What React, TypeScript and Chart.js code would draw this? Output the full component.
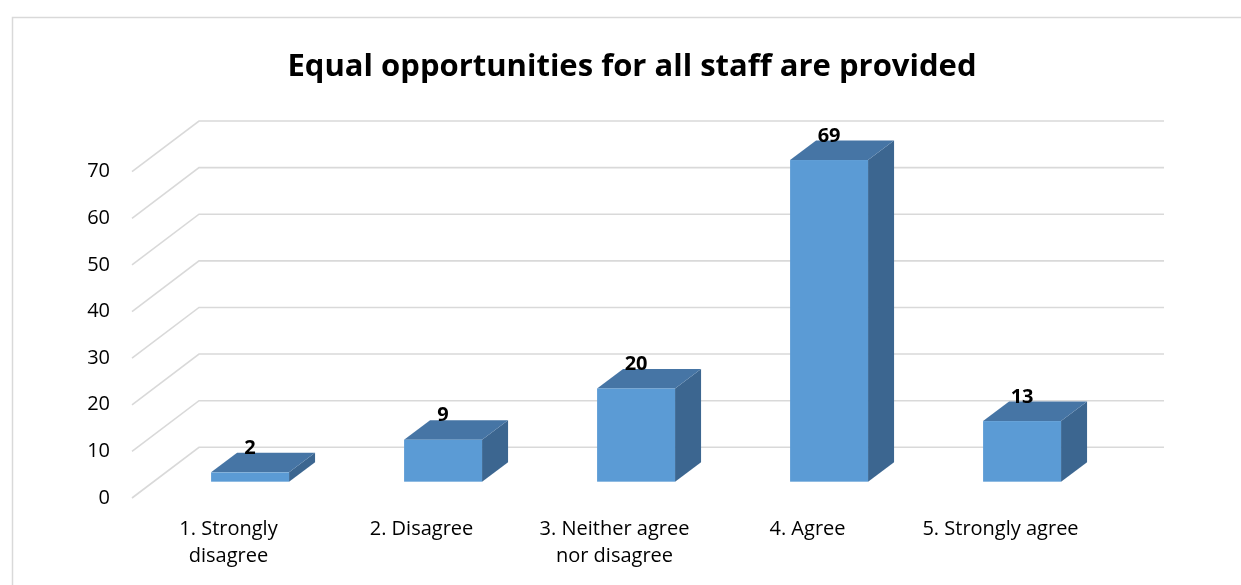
import React, { useEffect, useRef } from "react";
import { Chart, registerables } from "chart.js";

Chart.register(...registerables);

const chartTitle = "Equal opportunities for all staff are provided";
const categories: (string | string[])[] = [
  ["1. Strongly", "disagree"],
  "2. Disagree",
  ["3. Neither agree", "nor disagree"],
  "4. Agree",
  "5. Strongly agree",
];
const values = [2, 9, 20, 69, 13];
const yMin = 0;
const yMax = 70;
const yStep = 10;

const FONT = "'Open Sans', 'Noto Sans', sans-serif";
const DEPTH_X = 67;
const DEPTH_Y = 50.7;

const threeD = {
  id: "threeD",
  beforeDraw(chart: any) {
    const { ctx, width, height } = chart;
    ctx.save();
    ctx.fillStyle = "#ffffff";
    ctx.fillRect(0, 0, width, height);
    ctx.strokeStyle = "#D9D9D9";
    ctx.lineWidth = 1.5;
    ctx.beginPath();
    ctx.moveTo(12.5, height);
    ctx.lineTo(12.5, 17.5);
    ctx.lineTo(width, 17.5);
    ctx.stroke();
    ctx.restore();
  },
  beforeDatasetsDraw(chart: any) {
    const { ctx, chartArea, scales } = chart;
    const y = scales.y;
    ctx.save();
    ctx.strokeStyle = "#D9D9D9";
    ctx.lineWidth = 1.6;
    for (let v = yMin; v <= yMax; v += yStep) {
      const py = y.getPixelForValue(v);
      ctx.beginPath();
      ctx.moveTo(chartArea.left, py);
      ctx.lineTo(chartArea.left + DEPTH_X, py - DEPTH_Y);
      ctx.lineTo(chartArea.right + DEPTH_X, py - DEPTH_Y);
      ctx.stroke();
    }
    ctx.restore();
  },
  afterDatasetsDraw(chart: any) {
    const { ctx, chartArea, scales } = chart;
    const x = scales.x;
    const y = scales.y;
    const data = chart.data.datasets[0].data as number[];
    const catW = (chartArea.right - chartArea.left) / data.length;
    const w = catW * 0.404;
    const f = 0.322;
    const ox = DEPTH_X * f;
    const oy = -DEPTH_Y * f;
    const bdx = 26;
    const bdy = -19.5;
    ctx.save();
    data.forEach((v, i) => {
      const cx = x.getPixelForValue(i) + ox;
      const yb = y.getPixelForValue(0) + oy;
      const yt = y.getPixelForValue(v) + oy;
      const l = cx - w / 2;
      const r = cx + w / 2;
      ctx.fillStyle = "#3C6690";
      ctx.beginPath();
      ctx.moveTo(r, yb);
      ctx.lineTo(r + bdx, yb + bdy);
      ctx.lineTo(r + bdx, yt + bdy);
      ctx.lineTo(r, yt);
      ctx.closePath();
      ctx.fill();
      ctx.fillStyle = "#4675A5";
      ctx.beginPath();
      ctx.moveTo(l, yt);
      ctx.lineTo(l + bdx, yt + bdy);
      ctx.lineTo(r + bdx, yt + bdy);
      ctx.lineTo(r, yt);
      ctx.closePath();
      ctx.fill();
      ctx.fillStyle = "#5B9BD5";
      ctx.fillRect(l, yt, w, yb - yt);
      ctx.fillStyle = "#000000";
      ctx.font = `bold 20px ${FONT}`;
      ctx.textAlign = "center";
      ctx.textBaseline = "middle";
      ctx.fillText(String(v), cx, yt - 24);
    });
    ctx.restore();
  },
};

export default function App() {
  const ref = useRef<HTMLCanvasElement>(null);
  useEffect(() => {
    if (!ref.current) return;
    const chart = new Chart(ref.current, {
      type: "bar",
      data: {
        labels: categories,
        datasets: [
          {
            data: values,
            backgroundColor: "rgba(0,0,0,0)",
            borderWidth: 0,
          },
        ],
      },
      options: {
        responsive: false,
        animation: false,
        layout: { padding: { left: 23, right: 0, top: 0, bottom: 0 } },
        plugins: {
          legend: { display: false },
          tooltip: { enabled: false },
          title: {
            display: true,
            text: chartTitle,
            color: "#000000",
            font: { family: FONT, size: 31, weight: "bold", lineHeight: 1.2 },
            padding: { top: 48.7, bottom: 85.8 },
          },
        },
        scales: {
          x: {
            grid: { display: false, drawTicks: false },
            border: { display: false },
            ticks: {
              autoSkip: false,
              maxRotation: 0,
              minRotation: 0,
              padding: 18,
              color: "#000000",
              font: { family: FONT, size: 20, lineHeight: 1.33 },
            },
            afterFit(scale: any) {
              scale.height = 87;
            },
          },
          y: {
            min: yMin,
            max: yMax,
            grid: { display: false, drawTicks: false },
            border: { display: false },
            ticks: {
              stepSize: yStep,
              padding: 22,
              color: "#000000",
              font: { family: FONT, size: 20 },
            },
            afterFit(scale: any) {
              scale.width = 109;
            },
          },
          yRight: {
            type: "linear",
            position: "right",
            display: true,
            grid: { display: false, drawTicks: false },
            border: { display: false },
            ticks: { display: false },
            afterFit(scale: any) {
              scale.width = 144;
            },
          },
        },
      },
      plugins: [threeD],
    });
    return () => chart.destroy();
  }, []);
  return (
    <div style={{ position: "absolute", left: 0, top: 0, width: 1241, height: 585 }}>
      <canvas ref={ref} width={1241} height={585} />
    </div>
  );
}
